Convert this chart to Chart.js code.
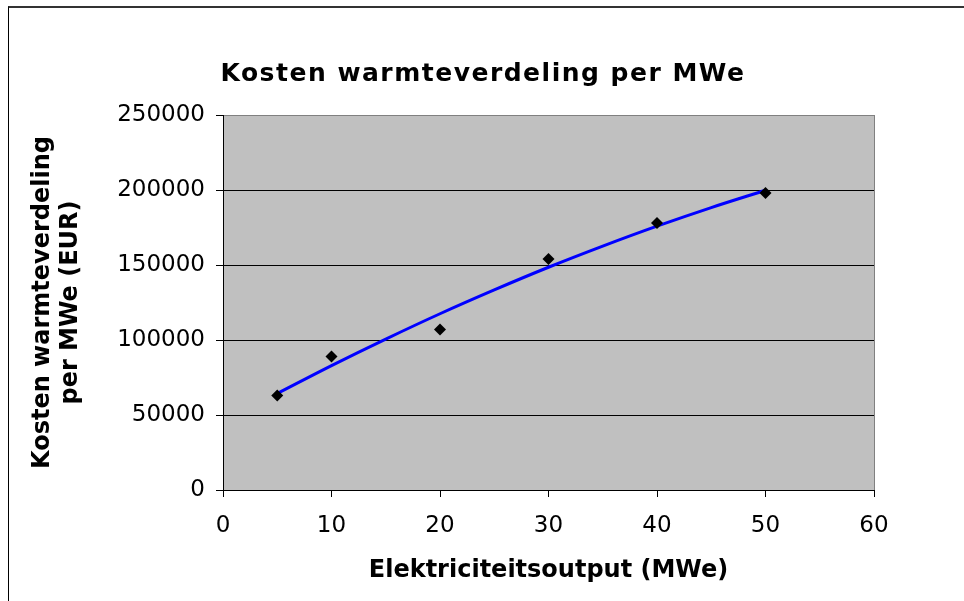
<!DOCTYPE html>
<html>
<head>
<meta charset="utf-8">
<script src="https://cdn.jsdelivr.net/npm/chart.js@4.4.1/dist/chart.umd.min.js"></script>
<style>
  body { margin: 0; background: #fff; overflow: hidden; }
  .wrap { position: relative; width: 964px; height: 601px; }
  .frame {
    position: absolute; left: 8px; top: 6px; right: -20px; bottom: -20px;
    border-top: 2px solid #333; border-left: 1px solid #000;
    pointer-events: none;
  }
</style>
</head>
<body>
<div class="wrap">
  <canvas id="myChart" width="964" height="601"></canvas>
  <div class="frame"></div>
</div>
<script>
/* Data */
const outputMWe = [5, 10, 20, 30, 40, 50];
const costPerMWe = [63000, 89000, 107000, 154000, 178000, 198000];

// trend line
const trendMWe = [5, 10, 15, 20, 25, 30, 35, 40, 45, 50];
const trendCost = [64300, 82900, 100600, 117500, 133400, 148500, 162600, 175900, 188300, 199800];

const xTicks = [0, 10, 20, 30, 40, 50, 60];
const yTicks = [0, 50000, 100000, 150000, 200000, 250000];

const FONT = "'DejaVu Sans', Verdana, sans-serif";

/* Plot area background + title */
const plotBack = {
  id: "plotBack",
  beforeDraw(chart) {
    const { ctx, chartArea: a } = chart;
    ctx.save();
    ctx.fillStyle = "#c0c0c0";
    ctx.fillRect(a.left, a.top, a.right - a.left, a.bottom - a.top);
    ctx.restore();
  },
  beforeDatasetsDraw(chart) {
    const { ctx, chartArea: a } = chart;
    ctx.save();
    ctx.strokeStyle = "#808080";
    ctx.lineWidth = 1;
    ctx.beginPath();
    ctx.moveTo(Math.round(a.right) + 0.5, a.top);
    ctx.lineTo(Math.round(a.right) + 0.5, a.bottom);
    ctx.stroke();
    ctx.restore();
  },
  afterDraw(chart) {
    const ctx = chart.ctx;
    ctx.save();
    ctx.fillStyle = "#000";
    ctx.font = "bold 25px " + FONT;
    ctx.letterSpacing = "1.5px";
    ctx.textAlign = "center";
    ctx.textBaseline = "middle";
    ctx.fillText("Kosten warmteverdeling per MWe", 483, 74);
    ctx.restore();
  },
};

const ctx = document.getElementById("myChart").getContext("2d");

const data = {
  datasets: [
    {
      label: "Kosten",
      data: outputMWe.map((x, i) => ({ x: x, y: costPerMWe[i] })),
      showLine: false,
      pointStyle: "rectRot",
      pointRadius: 6,
      pointBackgroundColor: "#000",
      pointBorderColor: "#000",
      pointBorderWidth: 0,
      order: 0,
    },
    {
      label: "Trend",
      data: trendMWe.map((x, i) => ({ x: x, y: trendCost[i] })),
      showLine: true,
      borderColor: "#0000ff",
      borderWidth: 3,
      pointRadius: 0,
      cubicInterpolationMode: "monotone",
      order: 1,
    },
  ],
};

const config = {
  type: "scatter",
  data: data,
  plugins: [plotBack],
  options: {
    responsive: false,
    animation: false,
    layout: { padding: { left: 0, right: 90, top: 115, bottom: 0 } },
    plugins: {
      legend: { display: false },
      tooltip: { enabled: false },
      title: { display: false },
    },
    scales: {
      x: {
        type: "linear",
        min: 0,
        max: 60,
        afterBuildTicks: (scale) => {
          scale.ticks = xTicks.map((v) => ({ value: v }));
        },
        afterFit: (scale) => {
          scale.height = 111;
        },
        border: { color: "#000", width: 1 },
        grid: {
          drawOnChartArea: false,
          drawTicks: true,
          tickLength: 7,
          tickColor: "#000",
        },
        ticks: {
          color: "#000",
          padding: 15,
          font: { family: FONT, size: 23 },
          callback: (v) => String(v),
        },
        title: {
          display: true,
          text: "Elektriciteitsoutput (MWe)",
          color: "#000",
          font: { family: FONT, size: 24, weight: "bold" },
          padding: { top: 0, bottom: 16 },
        },
      },
      y: {
        type: "linear",
        min: 0,
        max: 250000,
        afterBuildTicks: (scale) => {
          scale.ticks = yTicks.map((v) => ({ value: v }));
        },
        afterFit: (scale) => {
          scale.width = 223;
        },
        border: { color: "#000", width: 1 },
        grid: {
          color: (c) => (c.tick && c.tick.value === 250000 ? "#808080" : "#000"),
          lineWidth: 1,
          drawTicks: true,
          tickLength: 7,
          tickColor: "#000",
        },
        ticks: {
          color: "#000",
          padding: 11,
          font: { family: FONT, size: 23 },
          callback: (v) => String(v),
        },
        title: {
          display: true,
          text: ["Kosten warmteverdeling", "per MWe (EUR)"],
          color: "#000",
          font: { family: FONT, size: 24, weight: "bold" },
          lineHeight: 1.17,
          padding: { top: 28, bottom: 0 },
        },
      },
    },
  },
};

const myChart = new Chart(ctx, config);
</script>
</body>
</html>
